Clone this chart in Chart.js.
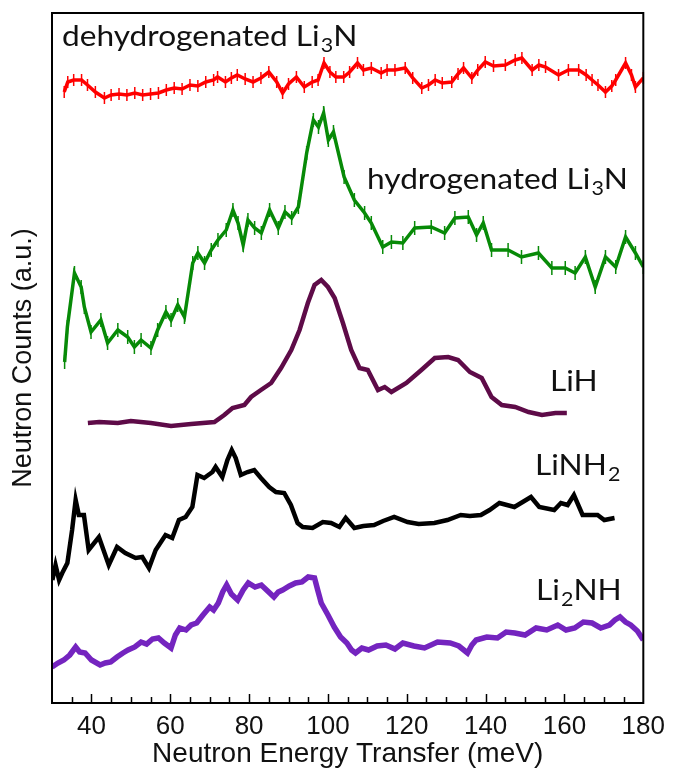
<!DOCTYPE html>
<html>
<head>
<meta charset="utf-8">
<script src="https://cdn.jsdelivr.net/npm/chart.js@4.4.1/dist/chart.umd.min.js"></script>
<style>
  html, body { margin: 0; padding: 0; background: #fff; }
  #wrap { width: 673px; height: 772px; }
</style>
</head>
<body>
<div id="wrap"><canvas id="chart" width="673" height="772"></canvas></div>
<script>
// x ticks (meV)
const xMajorTicks = [40, 60, 80, 100, 120, 140, 160, 180];
const xMinorTicks = [35, 45, 50, 55, 65, 70, 75, 85, 90, 95, 105, 110, 115, 125, 130, 135, 145, 150, 155, 165, 170, 175];

// dehydrogenated Li3N (offset curve, arbitrary units)
const energyDehyd = [33.1, 34, 35.5, 37.5, 39, 41, 43.3, 45, 47, 49, 51, 53, 55, 57, 59, 61, 63, 65, 67, 69, 71, 72, 74, 75.5, 77, 79, 81, 83, 85, 87, 88.5, 90, 92, 94, 96, 97.5, 99, 100.5, 102, 104, 105.5, 107.5, 109, 111, 113.5, 115, 117, 119.6, 121.5, 123.8, 125.5, 127.2, 129, 131.4, 133, 134.4, 136.5, 138, 139.9, 142, 145, 147.5, 149.2, 151.8, 153.5, 155.2, 158.5, 161, 163.6, 165.5, 167, 168.5, 170.4, 172, 173, 175.5, 177, 178, 180];
const countsDehyd = [618, 628, 630, 630, 625, 618, 612, 615, 616, 615, 617, 615, 616, 617, 620, 622, 621, 625, 624, 628, 630, 633, 628, 632, 635, 631, 628, 632, 638, 628, 617, 626, 633, 623, 628, 630, 647, 638, 633, 633, 638, 647, 640, 642, 637, 640, 640, 642, 632, 622, 625, 630, 627, 628, 636, 642, 632, 640, 648, 644, 645, 650, 652, 640, 645, 643, 635, 640, 640, 635, 630, 625, 618, 624, 630, 647, 635, 623, 632];

// hydrogenated Li3N
const energyHyd = [33.2, 33.9, 35.7, 37.4, 38.2, 39.9, 42.4, 44.1, 46.7, 49.2, 50.9, 52.6, 55.1, 56.8, 58.9, 60.2, 61.9, 63.6, 65.7, 67, 68.7, 70.4, 72.1, 74.2, 75.9, 77.2, 78.5, 79.7, 81.4, 83.1, 85.2, 87.4, 89.1, 90.8, 92.5, 94.6, 96.3, 97.6, 98.9, 100.1, 101.4, 104.1, 106.7, 109.3, 111, 113.9, 116.1, 119, 122, 126.2, 129.6, 132.2, 135.6, 137.7, 139.4, 141.5, 145.7, 149.1, 153.4, 156.8, 160.2, 162.7, 165.3, 167.8, 170.4, 173, 175.5, 178, 180];
const countsHyd = [348, 383, 437, 423, 403, 378, 390, 367, 380, 373, 363, 370, 362, 380, 398, 390, 405, 393, 447, 457, 447, 460, 470, 480, 500, 487, 465, 490, 482, 477, 500, 482, 498, 492, 503, 557, 590, 583, 597, 570, 578, 533, 510, 497, 487, 463, 468, 467, 482, 483, 477, 492, 493, 475, 487, 460, 460, 453, 457, 442, 442, 437, 453, 423, 453, 443, 473, 457, 443];

// LiH
const energyLiH = [39.1, 42, 46.7, 50, 55.1, 60.2, 65.3, 71.2, 73.7, 75.8, 78.8, 80.5, 83, 85.6, 88.1, 90.7, 92.8, 94.9, 96.6, 98.3, 100, 101.7, 103.8, 105.9, 108, 110.1, 112.7, 114.4, 116.1, 119.9, 123.7, 127.1, 130.5, 133, 136, 139, 141.5, 144.1, 147.5, 150.9, 154.3, 157.7, 160.6];
const countsLiH = [287, 288, 287, 289, 287, 284, 286, 288, 295, 302, 305, 313, 320, 327, 342, 360, 380, 407, 425, 430, 423, 412, 387, 360, 342, 340, 320, 323, 318, 327, 340, 352, 353, 350, 338, 332, 313, 305, 303, 298, 295, 297, 297];

// LiNH2
const energyLiNH2 = [30.1, 30.9, 31.8, 32.6, 33.9, 35.1, 36, 36.8, 38.1, 39.3, 41.9, 44.4, 46.5, 48.6, 51.2, 52.9, 54.6, 56.3, 58.8, 60.5, 62.2, 63.9, 65.6, 66.9, 68.6, 70.7, 71.5, 73.2, 74.5, 75.6, 76.6, 77.9, 79.6, 81.3, 83, 85.1, 86.8, 88.9, 90.6, 92.3, 93.6, 96.1, 98.7, 100.8, 102.9, 104.5, 106.7, 109, 111.7, 114, 116.8, 120.2, 123, 127, 130.3, 133.7, 136, 138.8, 141, 143.5, 147.3, 151.5, 153.6, 157.4, 159.1, 160.8, 162.4, 164.6, 168.4, 170.1, 172.7];
const countsLiNH2 = [130, 145, 130, 137, 147, 180, 210, 195, 195, 160, 173, 145, 163, 157, 152, 153, 142, 160, 175, 172, 190, 193, 203, 235, 232, 238, 243, 233, 250, 260, 252, 235, 238, 240, 232, 223, 218, 217, 205, 187, 183, 182, 188, 187, 183, 192, 182, 184, 185, 189, 193, 188, 186, 187, 190, 195, 194, 195, 200, 207, 203, 213, 203, 200, 207, 205, 215, 195, 195, 190, 192];

// Li2NH
const energyLi2NH = [30, 31.5, 33, 34.5, 36, 37, 38.4, 40, 42.2, 43.5, 44.9, 46.5, 48, 49.3, 51, 52.6, 54, 55.5, 57, 58.5, 60.2, 61.3, 62.4, 64, 65.3, 66.7, 68.3, 70, 71, 72.2, 73.3, 74.3, 75.5, 77.1, 78.5, 79.8, 81.5, 83.1, 84.7, 86.3, 87.4, 88.5, 90.2, 91.8, 93.4, 95, 96.6, 97.4, 98.3, 100, 101.6, 103.2, 104.8, 106, 107, 108.6, 110.3, 112.5, 114.7, 117, 119, 121.8, 124.5, 127.8, 131, 133.2, 135.4, 136.5, 137.6, 140.3, 143, 145.2, 147.4, 150, 152.8, 155.5, 158.3, 160.4, 162.6, 164.8, 167, 169.2, 171.4, 172.8, 174.1, 175.5, 176.8, 178.5, 180];
const countsLi2NH = [43, 47, 50, 55, 63, 58, 57, 50, 45, 47, 48, 53, 57, 60, 63, 68, 66, 71, 72, 67, 62, 75, 82, 80, 85, 87, 95, 103, 100, 107, 118, 125, 116, 110, 120, 127, 123, 125, 119, 113, 118, 120, 124, 127, 128, 133, 132, 120, 107, 95, 83, 73, 67, 60, 57, 62, 60, 64, 65, 61, 67, 64, 62, 68, 67, 64, 57, 65, 70, 73, 72, 78, 77, 75, 82, 80, 85, 80, 82, 88, 87, 82, 85, 90, 93, 88, 85, 79, 70];

function toPoints(xs, ys) {
    return xs.map((x, i) => ({ x: x, y: ys[i] }));
}

const series = [
    { label: 'dehydrogenated Li3N', xs: energyDehyd, ys: countsDehyd, color: '#ff0000', width: 3.5, err: 6 },
    { label: 'hydrogenated Li3N', xs: energyHyd, ys: countsHyd, color: '#078a07', width: 3.5, err: 7 },
    { label: 'LiH', xs: energyLiH, ys: countsLiH, color: '#5e0b48', width: 4.5, err: 0 },
    { label: 'LiNH2', xs: energyLiNH2, ys: countsLiNH2, color: '#000000', width: 4.5, err: 0 },
    { label: 'Li2NH', xs: energyLi2NH, ys: countsLi2NH, color: '#7424bf', width: 5.5, err: 0 }
];

// labels drawn inside the plot: [main, subscript, tail, left px, baseline px]
const curveLabels = [
    ['dehydrogenated Li', '3', 'N', 62, 46],
    ['hydrogenated Li', '3', 'N', 367, 189],
    ['LiH', '', '', 550, 391],
    ['LiNH', '2', '', 535, 475],
    ['Li', '2', 'NH', 536, 600]
];

const LABEL_FONT = 'Lato, "Open Sans", sans-serif';
const LABEL_STRETCH = 1.13;

const framePlugin = {
    id: 'framePlugin',
    beforeDatasetsDraw(chart) {
        // vertical error bars for the Li3N curves
        const ctx = chart.ctx;
        const xs = chart.scales.x, ys = chart.scales.y;
        ctx.save();
        chart.data.datasets.forEach((ds) => {
            if (!ds.errHalf) return;
            ctx.strokeStyle = ds.borderColor;
            ctx.lineWidth = 1.5;
            ds.data.forEach((p) => {
                const px = xs.getPixelForValue(p.x);
                ctx.beginPath();
                ctx.moveTo(px, ys.getPixelForValue(p.y - ds.errHalf));
                ctx.lineTo(px, ys.getPixelForValue(p.y + ds.errHalf));
                ctx.stroke();
            });
        });
        ctx.restore();
    },
    afterDraw(chart) {
        const ctx = chart.ctx;
        const area = chart.chartArea;
        const xs = chart.scales.x;
        ctx.save();
        // frame
        ctx.strokeStyle = '#000';
        ctx.lineWidth = 2;
        ctx.strokeRect(area.left, area.top, area.right - area.left, area.bottom - area.top);
        // inward ticks on the bottom axis
        ctx.lineWidth = 1.5;
        xMinorTicks.forEach((v) => {
            const px = Math.round(xs.getPixelForValue(v)) + 0.5;
            ctx.beginPath();
            ctx.moveTo(px, area.bottom);
            ctx.lineTo(px, area.bottom - 6);
            ctx.stroke();
        });
        xMajorTicks.forEach((v) => {
            if (v >= xs.max) return;
            const px = Math.round(xs.getPixelForValue(v)) + 0.5;
            ctx.beginPath();
            ctx.moveTo(px, area.bottom);
            ctx.lineTo(px, area.bottom - 9);
            ctx.stroke();
        });
        // curve labels
        ctx.fillStyle = '#111';
        ctx.textBaseline = 'alphabetic';
        curveLabels.forEach(([main, sub, tail, lx, ly]) => {
            ctx.save();
            ctx.translate(lx, ly);
            ctx.scale(LABEL_STRETCH, 1);
            ctx.font = '28px ' + LABEL_FONT;
            ctx.fillText(main, 0, 0);
            let cx = ctx.measureText(main).width;
            if (sub) {
                ctx.font = '19px ' + LABEL_FONT;
                ctx.fillText(sub, cx + 1, 6);
                cx += ctx.measureText(sub).width + 1;
            }
            if (tail) {
                ctx.font = '28px ' + LABEL_FONT;
                ctx.fillText(tail, cx, 0);
            }
            ctx.restore();
        });
        ctx.restore();
    }
};

const chart = new Chart(document.getElementById('chart'), {
    type: 'line',
    data: {
        datasets: series.map((s) => ({
            label: s.label,
            data: toPoints(s.xs, s.ys),
            borderColor: s.color,
            borderWidth: s.width,
            pointRadius: 0,
            tension: 0,
            fill: false,
            errHalf: s.err
        }))
    },
    options: {
        responsive: false,
        animation: false,
        events: [],
        layout: { padding: { left: 0, right: 27, top: 13, bottom: 0 } },
        plugins: {
            legend: { display: false },
            tooltip: { enabled: false }
        },
        scales: {
            x: {
                type: 'linear',
                min: 30,
                max: 180,
                grid: { display: false, drawTicks: false },
                border: { display: false },
                afterBuildTicks: (scale) => {
                    scale.ticks = xMajorTicks.map((v) => ({ value: v }));
                },
                afterFit: (scale) => { scale.height = 69; },
                ticks: {
                    autoSkip: false,
                    maxRotation: 0,
                    padding: 8,
                    color: '#111',
                    font: { family: '"Liberation Sans", Arial, sans-serif', size: 26 }
                },
                title: {
                    display: true,
                    text: 'Neutron Energy Transfer (meV)',
                    color: '#111',
                    padding: { top: 0, bottom: 1 },
                    font: { family: '"Liberation Sans", Arial, sans-serif', size: 28 }
                }
            },
            y: {
                type: 'linear',
                min: 7,
                max: 697,
                grid: { display: false, drawTicks: false },
                border: { display: false },
                ticks: { display: false },
                afterFit: (scale) => { scale.width = 52; },
                title: {
                    display: true,
                    text: 'Neutron Counts (a.u.)',
                    color: '#111',
                    padding: { top: 7, bottom: 0 },
                    font: { family: '"Liberation Sans", Arial, sans-serif', size: 27 }
                }
            }
        }
    },
    plugins: [framePlugin]
});
</script>
</body>
</html>
